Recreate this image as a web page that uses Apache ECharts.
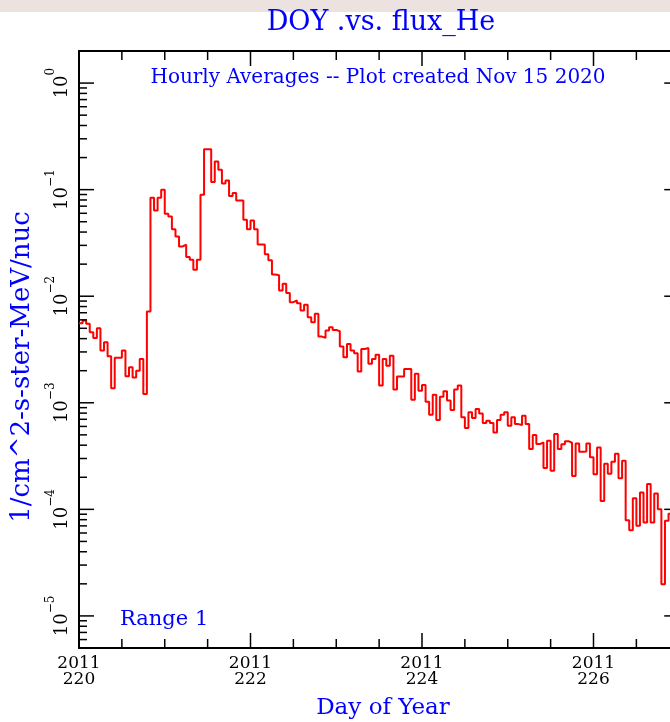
<!DOCTYPE html>
<html>
<head>
<meta charset="utf-8">
<title>DOY .vs. flux_He</title>
<script src="https://cdn.jsdelivr.net/npm/echarts@6/dist/echarts.min.js"></script>
<style>
html, body { margin: 0; padding: 0; }
body { background: linear-gradient(to bottom, #ece3e1 0, #ece3e1 12px, #ffffff 12px); }
#chart { width: 670px; height: 722px; }
</style>
</head>
<body>
<div id="chart"></div>
<script>
// hourly averages, one array per day of year 2011
var flux220 = [5.57e-3, 5.91e-3, 5.51e-3, 4.59e-3, 4.06e-3, 5.01e-3, 3.09e-3, 3.70e-3, 2.73e-3, 1.37e-3, 2.65e-3, 2.65e-3,
               3.09e-3, 1.77e-3, 2.15e-3, 1.73e-3, 2.00e-3, 2.58e-3, 1.21e-3, 7.18e-3, 8.41e-2, 6.38e-2, 8.41e-2, 1.00e-1];
var flux221 = [5.94e-2, 5.61e-2, 4.24e-2, 3.64e-2, 2.93e-2, 3.04e-2, 2.33e-2, 2.20e-2, 1.77e-2, 2.20e-2, 8.97e-2, 2.39e-1,
               2.39e-1, 1.18e-1, 1.84e-1, 1.54e-1, 1.14e-1, 1.22e-1, 8.71e-2, 9.30e-2, 7.93e-2, 7.93e-2, 5.22e-2, 4.24e-2];
var flux222 = [5.14e-2, 4.24e-2, 3.06e-2, 3.06e-2, 2.47e-2, 2.17e-2, 1.60e-2, 1.57e-2, 1.13e-2, 1.31e-2, 1.07e-2, 8.79e-3,
               9.12e-3, 8.59e-3, 7.34e-3, 8.30e-3, 6.35e-3, 5.70e-3, 6.84e-3, 4.18e-3, 4.06e-3, 4.77e-3, 5.12e-3, 4.83e-3];
var flux223 = [4.69e-3, 3.37e-3, 2.67e-3, 3.56e-3, 3.09e-3, 2.91e-3, 1.97e-3, 3.20e-3, 3.27e-3, 2.32e-3, 2.58e-3, 2.83e-3,
               1.45e-3, 2.58e-3, 2.23e-3, 2.77e-3, 1.33e-3, 1.76e-3, 1.76e-3, 2.07e-3, 2.07e-3, 1.07e-3, 1.87e-3, 1.30e-3];
var flux224 = [1.47e-3, 1.02e-3, 7.73e-4, 1.19e-3, 6.89e-4, 1.14e-3, 1.28e-3, 1.05e-3, 8.56e-4, 1.33e-3, 1.45e-3, 7.30e-4,
               5.79e-4, 8.13e-4, 7.20e-4, 8.75e-4, 7.95e-4, 6.45e-4, 6.79e-4, 6.45e-4, 5.27e-4, 6.89e-4, 7.73e-4, 8.13e-4];
var flux225 = [6.10e-4, 7.30e-4, 6.31e-4, 6.18e-4, 7.57e-4, 6.31e-4, 3.68e-4, 4.98e-4, 4.10e-4, 4.25e-4, 2.44e-4, 4.40e-4,
               2.30e-4, 5.09e-4, 3.68e-4, 4.08e-4, 4.36e-4, 4.22e-4, 2.06e-4, 4.15e-4, 3.47e-4, 3.49e-4, 4.15e-4, 3.08e-4];
var flux226 = [2.13e-4, 3.81e-4, 1.20e-4, 2.68e-4, 2.16e-4, 2.79e-4, 3.32e-4, 1.96e-4, 2.86e-4, 7.91e-5, 6.38e-5, 1.27e-4,
               7.00e-5, 1.44e-4, 7.51e-5, 1.73e-4, 7.51e-5, 1.41e-4, 1.00e-4, 1.98e-5, 7.80e-5, 9.08e-5];

var firstDay = 220;
var xMin = 220, xMax = 227;
var yMin = 5e-6, yMax = 2;
var dayTicks = [220, 222, 224, 226];
var decadeTicks = [1e-5, 1e-4, 1e-3, 1e-2, 1e-1, 1];

// minor ticks: every half day, and 2..9 in each decade
var halfDayTicks = [];
for (var d = 220.5; d < 227; d += 0.5) {
    if (dayTicks.indexOf(d) < 0) halfDayTicks.push(d);
}
var minorLogTicks = [];
for (var n = -6; n <= 0; n++) {
    for (var k = 2; k <= 9; k++) {
        var t = k * Math.pow(10, n);
        if (t > yMin && t < yMax) minorLogTicks.push(t);
    }
}

var hourly = [].concat(flux220, flux221, flux222, flux223, flux224, flux225, flux226);
var stepData = [];
for (var i = 0; i < hourly.length; i++) {
    stepData.push([firstDay + i / 24, hourly[i]]);
}
// close the last hour
stepData.push([firstDay + hourly.length / 24, hourly[hourly.length - 1]]);

// one item per tick mark and edge: [x, y], with its length and direction kept apart
var xTickData = [], xTickLen = [], xTickDir = [];
var yTickData = [], yTickLen = [], yTickDir = [];
function addXTicks(list, len) {
    list.forEach(function (v) {
        xTickData.push([v, yMin]); xTickLen.push(len); xTickDir.push(-1);  // bottom, pointing up
        xTickData.push([v, yMax]); xTickLen.push(len); xTickDir.push(1);   // top, pointing down
    });
}
function addYTicks(list, len) {
    list.forEach(function (v) {
        yTickData.push([xMin, v]); yTickLen.push(len); yTickDir.push(1);   // left, pointing right
        yTickData.push([xMax, v]); yTickLen.push(len); yTickDir.push(-1);  // right, pointing left
    });
}
addXTicks(dayTicks, 15);
addXTicks(halfDayTicks, 9);
addYTicks(decadeTicks, 15);
addYTicks(minorLogTicks, 8);

var serif = 'DejaVu Serif';
var blue = '#0000ff';
var frame = { show: true, onZero: false, lineStyle: { color: '#000', width: 2 } };

function renderXTick(params, api) {
    var p = api.coord([api.value(0), api.value(1)]).slice();
    var h = xTickLen[params.dataIndex] * xTickDir[params.dataIndex];
    return { type: 'rect', shape: { x: p[0] - 0.75, y: Math.min(p[1], p[1] + h), width: 1.5, height: Math.abs(h) },
             style: { fill: '#000' } };
}
function renderYTick(params, api) {
    var p = api.coord([api.value(0), api.value(1)]).slice();
    var w = yTickLen[params.dataIndex] * yTickDir[params.dataIndex];
    return { type: 'rect', shape: { x: Math.min(p[0], p[0] + w), y: p[1] - 0.75, width: Math.abs(w), height: 1.5 },
             style: { fill: '#000' } };
}

var myChart = echarts.init(document.getElementById('chart'), null, { renderer: 'canvas' });

var option = {
    backgroundColor: 'transparent',
    animation: false,
    grid: { left: 79, top: 51, width: 600.25, height: 597, containLabel: false, outerBoundsMode: 'none' },
    xAxis: [{
        type: 'value', min: xMin, max: xMax, position: 'bottom',
        axisLine: frame,
        axisTick: { show: false },
        axisLabel: {
            show: true, customValues: dayTicks, margin: 8,
            color: '#000', fontFamily: serif, fontSize: 17, lineHeight: 16,
            formatter: function (v) { return '2011\n' + v; }
        },
        splitLine: { show: false }
    }, {
        type: 'value', min: xMin, max: xMax, position: 'top',
        axisLine: frame, axisTick: { show: false }, axisLabel: { show: false }, splitLine: { show: false }
    }],
    yAxis: [{
        type: 'log', min: yMin, max: yMax, position: 'left',
        axisLine: frame,
        axisTick: { show: false },
        axisLabel: {
            show: true, customValues: decadeTicks, rotate: 90, margin: 8,
            formatter: function (v) {
                var e = Math.round(Math.log10(v));
                return '{b|10}{e|' + (e < 0 ? '\u2212' + (-e) : e) + '}';
            },
            rich: {
                b: { fontFamily: serif, fontSize: 18, color: '#000', verticalAlign: 'bottom', padding: [8, 0, 0, 0] },
                e: { fontFamily: serif, fontSize: 12, color: '#000', verticalAlign: 'top' }
            }
        },
        splitLine: { show: false }
    }, {
        type: 'log', min: yMin, max: yMax, position: 'right',
        axisLine: frame, axisTick: { show: false }, axisLabel: { show: false }, splitLine: { show: false }
    }],
    series: [{
        name: 'flux_He',
        type: 'line',
        xAxisIndex: 0,
        yAxisIndex: 0,
        step: 'end',
        showSymbol: false,
        clip: true,
        data: stepData,
        lineStyle: { color: '#ff0000', width: 2 }
    }, {
        type: 'custom', silent: true, clip: false, z: 5,
        xAxisIndex: 0, yAxisIndex: 0,
        dimensions: ['x', 'y'],
        encode: { x: 0, y: 1 },
        renderItem: renderXTick,
        data: xTickData
    }, {
        type: 'custom', silent: true, clip: false, z: 5,
        xAxisIndex: 0, yAxisIndex: 0,
        dimensions: ['x', 'y'],
        encode: { x: 0, y: 1 },
        renderItem: renderYTick,
        data: yTickData
    }],
    graphic: [
        { type: 'text', x: 381, y: 23, style: { text: 'DOY .vs. flux_He', fill: blue,
            font: '27px "DejaVu Serif"', textAlign: 'center', textVerticalAlign: 'middle' } },
        { type: 'text', x: 378, y: 78, style: { text: 'Hourly Averages -- Plot created Nov 15 2020', fill: blue,
            font: '20px "DejaVu Serif"', textAlign: 'center', textVerticalAlign: 'middle' } },
        { type: 'text', x: 120, y: 620, style: { text: 'Range 1', fill: blue,
            font: '21px "DejaVu Serif"', textAlign: 'left', textVerticalAlign: 'middle' } },
        { type: 'text', x: 383, y: 708, style: { text: 'Day of Year', fill: blue,
            font: '23px "DejaVu Serif"', textAlign: 'center', textVerticalAlign: 'middle' } },
        { type: 'text', x: 22, y: 367, rotation: Math.PI / 2, style: { text: '1/cm^2-s-ster-MeV/nuc', fill: blue,
            font: '26px "DejaVu Serif"', textAlign: 'center', textVerticalAlign: 'middle' } }
    ]
};
myChart.setOption(option);
</script>
</body>
</html>
